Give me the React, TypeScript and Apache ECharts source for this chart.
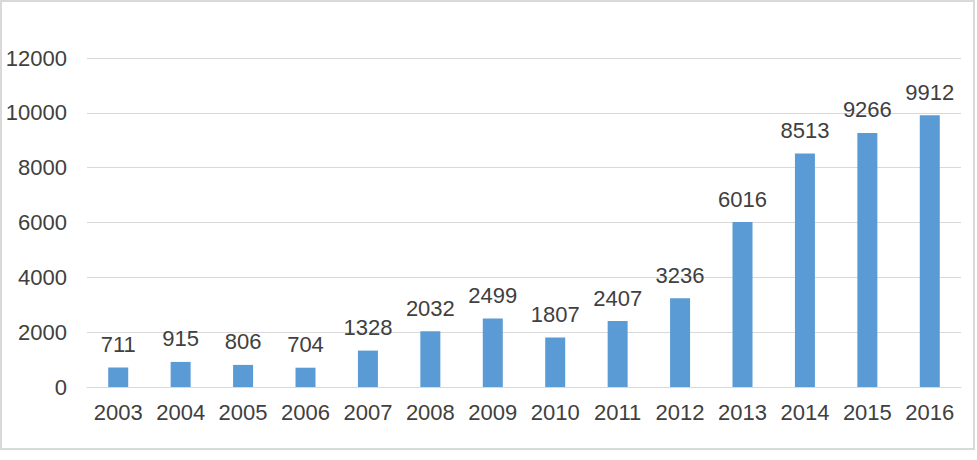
import React, { useEffect, useRef } from "react";
import * as echarts from "echarts";

const years = ["2003", "2004", "2005", "2006", "2007", "2008", "2009", "2010", "2011", "2012", "2013", "2014", "2015", "2016"];
const counts = [711, 915, 806, 704, 1328, 2032, 2499, 1807, 2407, 3236, 6016, 8513, 9266, 9912];

export default function App() {
  const ref = useRef<HTMLDivElement>(null);
  useEffect(() => {
    document.body.style.margin = "0";
    const chart = echarts.init(ref.current!, undefined, { renderer: "svg" });
    const font = "'Liberation Sans', Arial, sans-serif";
    chart.setOption({
      animation: false,
      backgroundColor: "#ffffff",
      graphic: [
        {
          type: "rect",
          shape: { x: 1, y: 1, width: 973, height: 448 },
          style: { fill: "none", stroke: "#d9d9d9", lineWidth: 2 },
          silent: true,
        },
      ],
      grid: { left: 87, right: 16, top: 58, bottom: 73 },
      xAxis: {
        type: "category",
        data: years,
        axisLine: { lineStyle: { color: "#d9d9d9", width: 1 } },
        axisTick: { show: false },
        axisLabel: { color: "#404040", fontSize: 22, fontFamily: font, margin: 14, interval: 0, hideOverlap: false },
      },
      yAxis: {
        type: "value",
        min: 0,
        max: 12000,
        interval: 2000,
        axisLine: { show: false },
        axisTick: { show: false },
        splitLine: { lineStyle: { color: "#d9d9d9", width: 1 } },
        axisLabel: {
          color: "#404040",
          fontSize: 22,
          fontFamily: font,
          margin: 20,
          formatter: (v: number) => String(v),
        },
      },
      series: [
        {
          type: "bar",
          data: counts,
          barWidth: 20,
          itemStyle: { color: "#5b9bd5" },
          label: {
            show: true,
            position: "top",
            distance: 12,
            color: "#404040",
            fontSize: 22,
            fontFamily: font,
          },
        },
      ],
    });
    return () => chart.dispose();
  }, []);
  return <div ref={ref} style={{ width: 977, height: 460 }} />;
}
